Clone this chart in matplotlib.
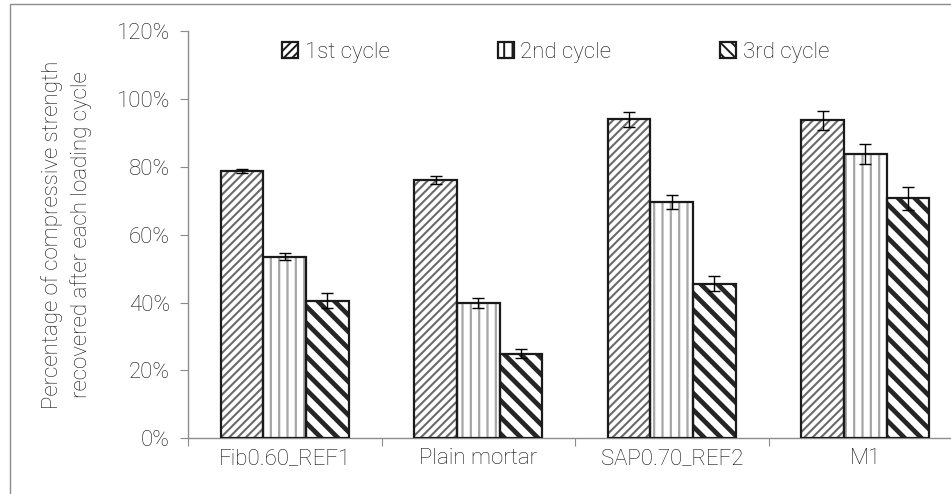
import numpy as np
import matplotlib
matplotlib.use("Agg")
import matplotlib.pyplot as plt
from matplotlib import font_manager
from matplotlib.patches import Rectangle

#----------------------------------------------------------------------------

categories = ["Fib0.60_REF1", "Plain mortar", "SAP0.70_REF2", "M1"]
series_names = ["1st cycle", "2nd cycle", "3rd cycle"]
cycle1 = [78.8, 76.2, 94.0, 93.8]
cycle2 = [53.6, 40.0, 69.6, 83.8]
cycle3 = [40.6, 25.0, 45.6, 70.8]
err1 = [0.5, 1.1, 2.2, 2.8]
err2 = [1.1, 1.5, 2.0, 3.0]
err3 = [2.3, 1.2, 2.3, 3.4]
yticks = [0, 20, 40, 60, 80, 100, 120]

#----------------------------------------------------------------------------

# pick a light weight if one is installed
light = [f for f in font_manager.fontManager.ttflist
         if f.name == "Roboto" and isinstance(f.weight, int) and f.weight <= 300
         and f.style == "normal"]
weight = "light" if light else "normal"
plt.rcParams["font.family"] = ["Roboto", "DejaVu Sans"]
plt.rcParams["font.weight"] = weight
plt.rcParams["axes.labelweight"] = weight
plt.rcParams["hatch.linewidth"] = 1.4

fig = plt.figure(figsize=(9.51, 4.94), dpi=100)
W, H = 951.0, 494.0
ax = fig.add_axes([188 / W, (H - 438.3) / H, 774 / W, 407 / H])

# outer chart border (left and top edge only visible)
fig.patches.append(Rectangle((10 / W, -0.1), 1.2, (H - 4) / H + 0.1,
                             transform=fig.transFigure, fill=False,
                             edgecolor="#8c8c8c", linewidth=1.0))

x = np.arange(len(categories))
bw = 0.22
styles = [
    dict(hatch="////", hcolor="#6a6a6a", hlw=1.5),
    dict(hatch="||", hcolor="#a6a6a6", hlw=1.6),
    dict(hatch="\\\\", hcolor="#262626", hlw=3.4),
]
data = [cycle1, cycle2, cycle3]
errs = [err1, err2, err3]
fs = 16
tc = "#111111"

handles = []
for i, (vals, er, st) in enumerate(zip(data, errs, styles)):
    pos = x + (i - 1) * bw
    hb = ax.bar(pos, vals, bw, color="white", edgecolor=st["hcolor"],
                hatch=st["hatch"], linewidth=0, zorder=2)
    for p in hb:
        if hasattr(p, "set_hatch_linewidth"):
            p.set_hatch_linewidth(st["hlw"])
    ax.bar(pos, vals, bw, facecolor="none", edgecolor="#1a1a1a",
           linewidth=1.6, zorder=3)
    ax.errorbar(pos, vals, yerr=er, fmt="none", ecolor="black",
                elinewidth=1.0, capsize=4, capthick=1.0, zorder=4)
    h = Rectangle((0, 0), 1, 1, facecolor="white", edgecolor="#1a1a1a",
                  hatch=st["hatch"].replace("\\\\", "\\\\\\"), linewidth=1.6)
    handles.append(h)

ax.set_xlim(-0.5, 3.5)
ax.set_ylim(0, 120)
ax.set_yticks(yticks)
ax.set_yticklabels(["%d%%" % v for v in yticks])
ax.set_xticks(np.arange(-0.5, 4.0, 1.0), minor=False)
ax.set_xticklabels([])
ax.set_xticks(x, minor=True)
ax.set_xticklabels(categories, minor=True)
ax.tick_params(axis="x", which="minor", length=0, pad=7, labelsize=fs,
               colors=tc)
ax.tick_params(axis="x", which="major", length=6, color="#8c8c8c")
ax.tick_params(axis="y", length=6, color="#8c8c8c", labelsize=fs,
               labelcolor=tc, pad=7)

for s in ["top", "right"]:
    ax.spines[s].set_visible(False)
for s in ["left", "bottom"]:
    ax.spines[s].set_color("#8c8c8c")
    ax.spines[s].set_linewidth(1.0)

ax.set_ylabel("Percentage of compressive strength\nrecovered after each loading cycle",
              fontsize=fs, color=tc, linespacing=1.45)
ax.yaxis.set_label_coords((92 - 188) / 774, 0.5)

leg = ax.legend(handles, series_names, loc="center", bbox_to_anchor=(0.475, 0.949),
                ncol=3, frameon=False, fontsize=fs, handlelength=0.7,
                handleheight=0.7, handletextpad=0.3, columnspacing=4.9)
for t in leg.get_texts():
    t.set_color(tc)

fig.savefig("out.png", dpi=100)
